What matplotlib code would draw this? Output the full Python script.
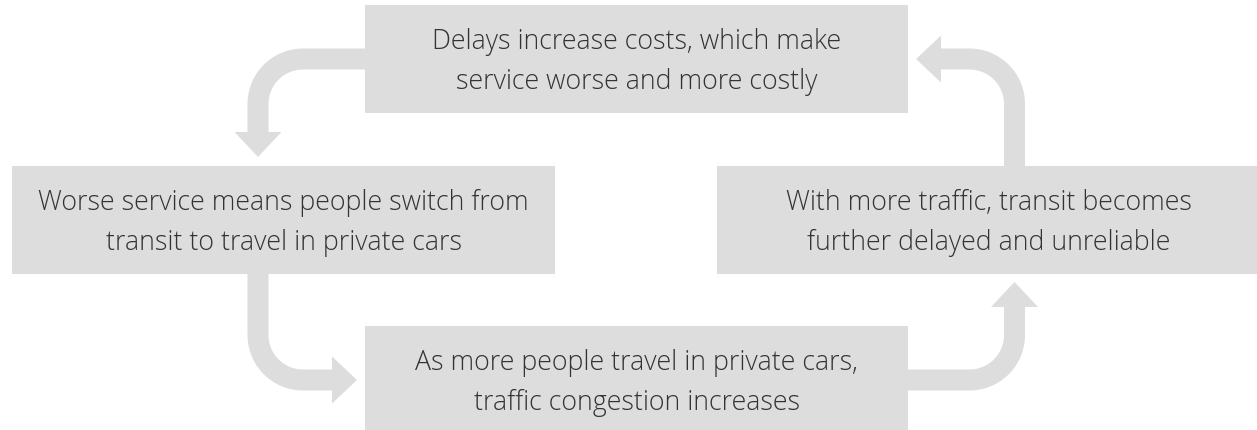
import numpy as np
import matplotlib.pyplot as plt
from matplotlib.patches import Rectangle, Polygon

# text of the four boxes, clockwise from the top
box_lines = [
    ["Delays increase costs, which make", "service worse and more costly"],
    ["With more traffic, transit becomes", "further delayed and unreliable"],
    ["As more people travel in private cars,", "traffic congestion increases"],
    ["Worse service means people switch from", "transit to travel in private cars"],
]

# layout in pixels (y grows downwards)
box_cx = [636.5, 988.5, 636.5, 283.5]
box_cy = [59.5, 221, 381, 221]
box_w, box_h = 543, 108

# arrows: start, corner, tip
arrows = [
    ((365, 60), (258, 60), (258, 158)),
    ((258, 275), (258, 381), (357, 381)),
    ((908, 381), (1014.5, 381), (1014.5, 283)),
    ((1014.5, 167), (1014.5, 60), (916, 60)),
]
shaft_px = 21
head_len, head_half = 25, 23.5
radius = 45

grey = "#dddddd"
ink = "#333333"

fig = plt.figure(figsize=(12.57, 4.31), dpi=100)
ax = fig.add_axes([0, 0, 1, 1])
ax.set_xlim(0, 1257)
ax.set_ylim(431, 0)
ax.axis("off")

for cx, cy, lines in zip(box_cx, box_cy, box_lines):
    ax.add_patch(Rectangle((cx - box_w / 2, cy - box_h / 2), box_w, box_h,
                           facecolor=grey, edgecolor="none"))
    ax.text(cx, cy - 11, lines[0], ha="center", va="baseline", fontsize=19.3,
            family="Open Sans", fontweight="light", color=ink)
    ax.text(cx, cy + 29, lines[1], ha="center", va="baseline", fontsize=19.3,
            family="Open Sans", fontweight="light", color=ink)


def bent_arrow(start, corner, tip):
    s, c, t = (np.array(p, float) for p in (start, corner, tip))
    d1 = (c - s) / np.linalg.norm(c - s)
    d2 = (t - c) / np.linalg.norm(t - c)
    p1 = c - radius * d1
    centre = p1 + radius * d2
    th = np.linspace(0, np.pi / 2, 30)
    arc = centre + radius * (np.outer(np.cos(th), -d2) + np.outer(np.sin(th), d1))
    base = t - head_len * d2
    pts = np.vstack([s, arc, base])
    ax.plot(pts[:, 0], pts[:, 1], color=grey, lw=shaft_px * 72 / 100,
            solid_capstyle="butt", solid_joinstyle="round")
    perp = np.array([-d2[1], d2[0]])
    ax.add_patch(Polygon([base + head_half * perp, t, base - head_half * perp],
                         closed=True, facecolor=grey, edgecolor="none"))


for a in arrows:
    bent_arrow(*a)

fig.savefig("out.png", dpi=100)
